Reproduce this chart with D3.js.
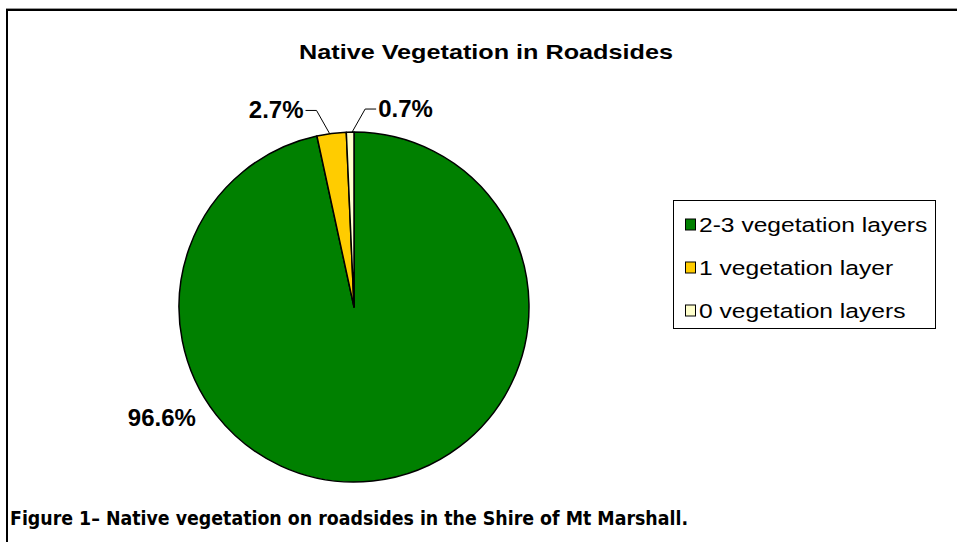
<!DOCTYPE html>
<html>
<head>
<meta charset="utf-8">
<script src="https://cdn.jsdelivr.net/npm/d3@7"></script>
<style>
  body { margin: 0; background: #fff; }
  svg { display: block; }
</style>
</head>
<body>
<script>
const width = 957, height = 542;

const categories = ["2-3 vegetation layers", "1 vegetation layer", "0 vegetation layers"];
const values = [96.6, 2.7, 0.7];
const labels = ["96.6%", "2.7%", "0.7%"];
const colors = ["#008000", "#FFCC00", "#FFFFCC"];

const cx = 354, cy = 307, radius = 175;
const font = "Liberation Sans, Arial, sans-serif";

const svg = d3.select("body")
    .append("svg")
    .attr("width", width)
    .attr("height", height);

// frame (only top and left edges are visible in the crop)
svg.append("line").attr("x1", 6).attr("x2", width).attr("y1", 8.5).attr("y2", 8.5)
    .attr("stroke", "#999").attr("stroke-width", 1);
svg.append("line").attr("x1", 6).attr("x2", width).attr("y1", 10).attr("y2", 10)
    .attr("stroke", "#000").attr("stroke-width", 2);
svg.append("line").attr("x1", 7).attr("x2", 7).attr("y1", 9).attr("y2", height)
    .attr("stroke", "#000").attr("stroke-width", 2);

// the source renders its text a bit wide
const widen = (sel, k) => sel.each(function () {
    const w = this.getComputedTextLength();
    d3.select(this).attr("textLength", w * k).attr("lengthAdjust", "spacingAndGlyphs");
});

svg.append("text")
    .attr("x", 486).attr("y", 59)
    .attr("text-anchor", "middle")
    .attr("font-family", font)
    .attr("font-weight", "bold")
    .attr("font-size", 21)
    .text("Native Vegetation in Roadsides")
    .call(widen, 1.2);

const pie = d3.pie().sort(null).value(d => d);
const arcs = pie(values);
const arc = d3.arc().innerRadius(0).outerRadius(radius);

const g = svg.append("g").attr("transform", `translate(${cx},${cy})`);

g.selectAll("path")
    .data(arcs)
    .enter()
    .append("path")
    .attr("d", arc)
    .attr("fill", (d, i) => colors[i])
    .attr("stroke", "#000")
    .attr("stroke-width", 1.5)
    .attr("stroke-linejoin", "round");

const edge = (a, r) => [r * Math.sin(a), -r * Math.cos(a)];

const labelStyle = sel => sel
    .attr("font-family", font)
    .attr("font-weight", "bold")
    .attr("font-size", 24);

// big slice label sits outside the lower-left rim (excel nudged it off the mid angle)
{
    const a = arcs[0].startAngle + (arcs[0].endAngle - arcs[0].startAngle) * 0.69;
    const p = edge(a, radius + 47);
    g.append("text").call(labelStyle)
        .attr("x", p[0]).attr("y", p[1] + 8)
        .attr("text-anchor", "middle")
        .text(labels[0]);
}

// small slices with leader lines (dir -1 = label to the left)
[[1, -1], [2, 1]].forEach(([i, dir]) => {
    const a = (arcs[i].startAngle + arcs[i].endAngle) / 2;
    const p0 = edge(a, radius);
    p0[0] += dir * 2;
    const p1 = [p0[0] + 13 * dir, p0[1] - 23];
    const p2 = [p1[0] + 11 * dir, p1[1]];
    g.append("polyline")
        .attr("points", [p0, p1, p2].map(p => p.join(",")).join(" "))
        .attr("fill", "none")
        .attr("stroke", "#000")
        .attr("stroke-width", 1);
    g.append("text").call(labelStyle)
        .attr("x", p2[0] + 2 * dir).attr("y", p2[1] + 8)
        .attr("text-anchor", dir < 0 ? "end" : "start")
        .text(labels[i]);
});

// legend
const legend = svg.append("g").attr("transform", "translate(673,200)");
legend.append("rect")
    .attr("x", 0.5).attr("y", 0.5).attr("width", 262).attr("height", 128)
    .attr("fill", "#fff").attr("stroke", "#000").attr("stroke-width", 1);

const row = d3.scaleBand().domain(categories).range([3, 132]);

const item = legend.selectAll(".item")
    .data(categories)
    .enter()
    .append("g")
    .attr("transform", d => `translate(0,${row(d) + row.bandwidth() / 2})`);

item.append("rect")
    .attr("x", 12.5).attr("y", -5.5).attr("width", 10).attr("height", 11)
    .attr("fill", (d, i) => colors[i])
    .attr("stroke", "#000").attr("stroke-width", 1);

item.append("text")
    .attr("x", 26).attr("y", 7)
    .attr("font-family", font)
    .attr("font-size", 20.5)
    .text(d => d)
    .call(widen, 1.2);

svg.append("text")
    .attr("x", 10).attr("y", 525)
    .attr("font-family", "Liberation Sans Narrow, DejaVu Sans Condensed, sans-serif")
    .attr("font-weight", "bold")
    .attr("font-size", 19)
    .attr("textLength", 678)
    .attr("lengthAdjust", "spacingAndGlyphs")
    .text("Figure 1\u2013 Native vegetation on roadsides in the Shire of Mt Marshall.");
</script>
</body>
</html>
